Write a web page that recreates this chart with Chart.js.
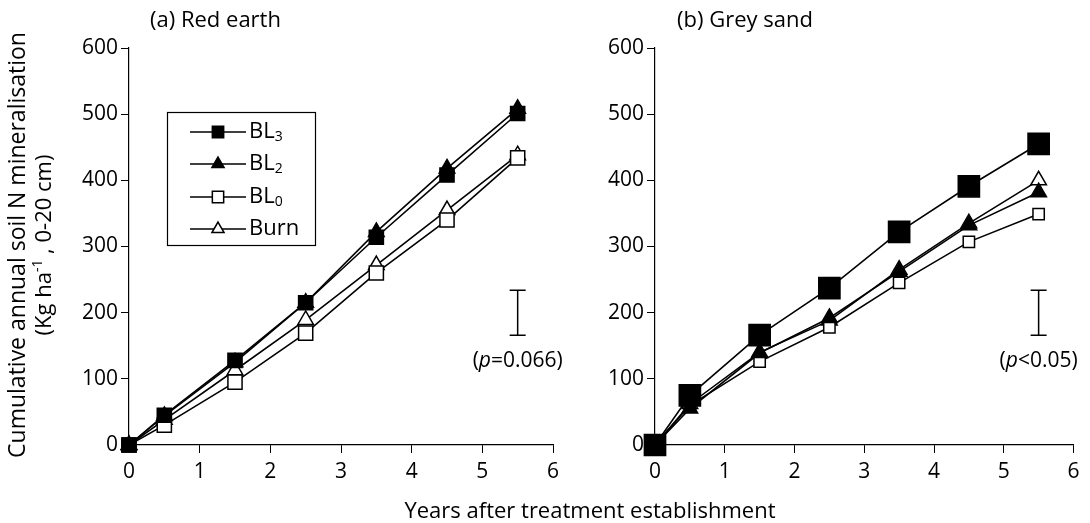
<!DOCTYPE html>
<html>
<head>
<meta charset="utf-8">
<script src="https://cdn.jsdelivr.net/npm/chart.js"></script>
<style>
  body { margin: 0; background: #fff; }
  #wrap { position: relative; width: 1090px; height: 523px; overflow: hidden; }
  canvas { position: absolute; top: 0; }
  #xtitle { position: absolute; left: 0; width: 1180px; top: 496px; text-align: center;
            font: 22px "Open Sans", sans-serif; line-height: 26px; color: #000; }
</style>
</head>
<body>
<div id="wrap">
  <canvas id="chartA" width="575" height="523" style="left:0"></canvas>
  <canvas id="chartB" width="550" height="523" style="left:540px"></canvas>
  <div id="xtitle">Years after treatment establishment</div>
</div>
<script>
// years after treatment establishment
const years = [0, 0.5, 1.5, 2.5, 3.5, 4.5, 5.5];

// (a) Red earth
const redBL3  = [0, 45, 128, 215, 314, 408, 501];
const redBL2  = [0, 44, 125, 215, 322, 418, 508];
const redBL0  = [0, 30, 95, 169, 260, 340, 434];
const redBurn = [0, 38, 113, 189, 272, 355, 438];

// (b) Grey sand
const greyBL3  = [0, 75, 166, 237, 322, 391, 455];
const greyBL2  = [0, 55, 139, 192, 262, 332, 382];
const greyBL0  = [0, 60, 126, 178, 245, 307, 349];
const greyBurn = [0, 62, 140, 188, 265, 335, 400];

// LSD bars at x = 5.5 (bottom, top)
const lsdRed  = [166, 234];
const lsdGrey = [166, 234];

const seriesNames = ['BL', 'BL', 'BL', 'Burn'];
const seriesSubs  = ['3', '2', '0', ''];

const FONT = '"Open Sans", sans-serif';
Chart.defaults.font.family = FONT;
Chart.defaults.color = '#000';

const styles = [
  { pointStyle: 'rect',     fill: '#000' },
  { pointStyle: 'triangle', fill: '#000' },
  { pointStyle: 'rect',     fill: '#fff' },
  { pointStyle: 'triangle', fill: '#fff' }
];

function makeSets(values, radii) {
  return values.map((vals, i) => ({
    label: seriesNames[i] + seriesSubs[i],
    data: years.map((x, j) => ({ x: x, y: vals[j] })),
    borderColor: '#000',
    borderWidth: 1.6,
    pointStyle: styles[i].pointStyle,
    pointBackgroundColor: styles[i].fill,
    pointBorderColor: '#000',
    pointBorderWidth: 1.5,
    pointRadius: radii[i],
    order: i,
    clip: false,
    tension: 0
  }));
}

// draw pieces of text with different fonts / offsets
function drawRuns(ctx, runs, x, y, align) {
  let total = 0;
  runs.forEach(r => { ctx.font = r.font; total += ctx.measureText(r.t).width; });
  let cx = align === 'center' ? x - total / 2 : x;
  ctx.textAlign = 'left';
  runs.forEach(r => {
    ctx.font = r.font;
    ctx.fillText(r.t, cx, y + (r.dy || 0));
    cx += ctx.measureText(r.t).width;
  });
}

function drawLsd(chart, lsd, label) {
  const ctx = chart.ctx;
  const xs = chart.scales.x, ys = chart.scales.y;
  const px = xs.getPixelForValue(5.5);
  const y0 = ys.getPixelForValue(lsd[0]);
  const y1 = ys.getPixelForValue(lsd[1]);
  ctx.save();
  ctx.strokeStyle = '#000';
  ctx.lineWidth = 1.5;
  ctx.beginPath();
  ctx.moveTo(px, y0); ctx.lineTo(px, y1);
  ctx.moveTo(px - 8, y0); ctx.lineTo(px + 8, y0);
  ctx.moveTo(px - 8, y1); ctx.lineTo(px + 8, y1);
  ctx.stroke();
  ctx.fillStyle = '#000';
  ctx.textBaseline = 'middle';
  drawRuns(ctx, [
    { t: '(', font: '21px ' + FONT },
    { t: 'p', font: 'italic 21px ' + FONT },
    { t: label, font: '21px ' + FONT }
  ], px, y0 + 26, 'center');
  ctx.restore();
}

const extrasA = {
  id: 'extrasA',
  afterDraw(chart) {
    const ctx = chart.ctx;
    ctx.save();
    ctx.fillStyle = '#000';
    ctx.textBaseline = 'middle';
    ctx.font = '22px ' + FONT;
    ctx.textAlign = 'left';
    ctx.fillText('(a) Red earth', 150, 21);

    // y title
    ctx.save();
    ctx.translate(18, 245);
    ctx.rotate(-Math.PI / 2);
    ctx.textAlign = 'center';
    ctx.font = '23px ' + FONT;
    ctx.fillText('Cumulative annual soil N mineralisation', 0, 0);
    ctx.restore();
    ctx.save();
    ctx.translate(45, 245);
    ctx.rotate(-Math.PI / 2);
    drawRuns(ctx, [
      { t: '(Kg ha', font: '22px ' + FONT },
      { t: '-1', font: '14px ' + FONT, dy: -7 },
      { t: ' , 0-20 cm)', font: '22px ' + FONT }
    ], 0, 0, 'center');
    ctx.restore();

    // legend
    ctx.strokeStyle = '#000';
    ctx.lineWidth = 1.2;
    ctx.strokeRect(167.5, 112.5, 148, 133);
    const rows = [132, 164, 197, 229];
    rows.forEach((ry, i) => {
      ctx.lineWidth = 1.6;
      ctx.beginPath();
      ctx.moveTo(190, ry); ctx.lineTo(246, ry);
      ctx.stroke();
      ctx.fillStyle = styles[i].fill;
      ctx.lineWidth = 1.5;
      Chart.helpers.drawPoint(ctx, {
        pointStyle: styles[i].pointStyle,
        radius: i % 2 ? 7 : 8,
        rotation: 0,
        borderWidth: 1.5
      }, 218, ry);
      ctx.fillStyle = '#000';
      drawRuns(ctx, [
        { t: seriesNames[i], font: '22px ' + FONT },
        { t: seriesSubs[i], font: '14px ' + FONT, dy: 5 }
      ], 249, ry, 'left');
    });
    ctx.restore();

    drawLsd(chart, lsdRed, '=0.066)');
  }
};

const extrasB = {
  id: 'extrasB',
  afterDraw(chart) {
    const ctx = chart.ctx;
    ctx.save();
    ctx.fillStyle = '#000';
    ctx.textBaseline = 'middle';
    ctx.font = '22px ' + FONT;
    ctx.textAlign = 'left';
    ctx.fillText('(b) Grey sand', 137, 21);
    ctx.restore();
    drawLsd(chart, lsdGrey, '<0.05)');
  }
};

function makeOptions(yWidth, padRight) {
  return {
    responsive: false,
    animation: false,
    layout: { padding: { top: 48, right: padRight, bottom: 0, left: 0 } },
    plugins: { legend: { display: false }, tooltip: { enabled: false } },
    scales: {
      x: {
        type: 'linear', min: 0, max: 6,
        ticks: { stepSize: 1, font: { size: 21 }, color: '#000', padding: 6, maxRotation: 0 },
        grid: { drawOnChartArea: false, tickLength: 8, color: '#000', lineWidth: 1 },
        border: { color: '#000', width: 1.2 },
        afterFit(s) { s.height = 78; }
      },
      y: {
        min: 0, max: 600,
        ticks: { stepSize: 100, font: { size: 21 }, color: '#000', padding: 3 },
        grid: { drawOnChartArea: false, tickLength: 8, color: '#000', lineWidth: 1 },
        border: { color: '#000', width: 1.2 },
        afterFit(s) { s.width = yWidth; }
      }
    }
  };
}

new Chart(document.getElementById('chartA'), {
  type: 'line',
  data: { datasets: makeSets([redBL3, redBL2, redBL0, redBurn], [10, 9, 10, 9]) },
  options: makeOptions(129, 22),
  plugins: [extrasA]
});

new Chart(document.getElementById('chartB'), {
  type: 'line',
  data: { datasets: makeSets([greyBL3, greyBL2, greyBL0, greyBurn], [15, 9, 8, 9]) },
  options: makeOptions(115, 9),
  plugins: [extrasB]
});
</script>
</body>
</html>
